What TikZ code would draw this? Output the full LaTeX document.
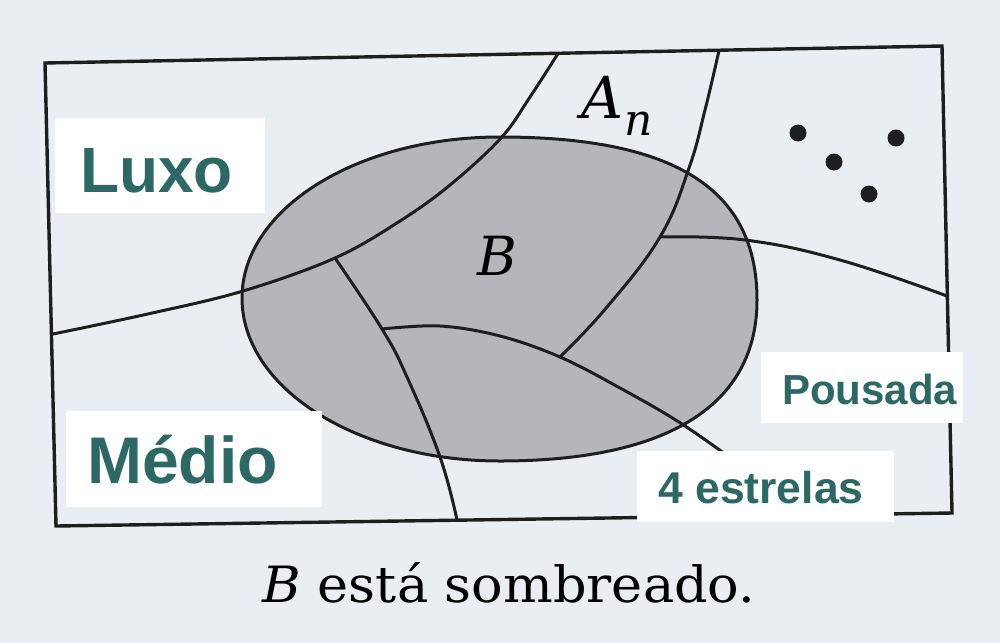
\documentclass[tikz,border=0pt]{standalone}
\usepackage{fontspec}
\newfontfamily\labfont{Liberation Sans}
\newfontfamily\serifb{DejaVu Serif}
\definecolor{bgc}{RGB}{234,238,243}
\definecolor{ink}{RGB}{30,30,30}
\definecolor{shade}{RGB}{180,182,186}
\definecolor{teal}{RGB}{44,104,100}
\tikzset{
  frame/.style={draw=ink, line width=3.4pt, line join=miter},
  curve/.style={draw=ink, line width=3pt, line cap=round},
  whitebox/.style={fill=white, draw=none},
  tag/.style={text=teal, anchor=base west, inner sep=0pt},
  dotmark/.style={fill=ink}
}
\begin{document}
\begin{tikzpicture}[x=1pt,y=-1pt]
\useasboundingbox (0,0) rectangle (1000,643);
\fill[bgc] (0,0) rectangle (1000,643);

% frame corners
\coordinate (TL) at (45,63);
\coordinate (TR) at (942,46);
\coordinate (BR) at (952,513);
\coordinate (BL) at (56,526);

% set B (shaded)
\path[fill=shade] (242,298) .. controls (242,209) and (357,137) .. (500,137)
  .. controls (675,137) and (757,189) .. (757,300)
  .. controls (757,405) and (668,461) .. (500,461)
  .. controls (357,461) and (242,388) .. (242,298) -- cycle;

% junctions
\coordinate (j1) at (335,258);
\coordinate (j2) at (660,237);
\coordinate (j3) at (560,357);
\coordinate (j4) at (382,329);

% Luxo boundary
\draw[curve] plot[smooth, tension=0.6] coordinates {(53,334) (150,313.5) (243,291) (j1) (400,221) (450,185) (501,138) (530,97) (558,53.5)};
% A_n right boundary
\draw[curve] plot[smooth, tension=0.7] coordinates {(719,50.5) (705,110) (689,168) (j2) (607,307) (j3)};
% right horizontal boundary
\draw[curve] plot[smooth, tension=0.7] coordinates {(j2) (745,240) (840,260) (947,296)};
% inner boundary
\draw[curve] plot[smooth, tension=0.7] coordinates {(j1) (j4) (407,377) (440,457) (457,520)};
% lower boundary
\draw[curve] plot[smooth, tension=0.6] coordinates {(j4) (440,326) (500,336) (j3) (620,388) (682,424) (750,472)};

% outline of B
\draw[draw=ink, line width=3pt] (242,298) .. controls (242,209) and (357,137) .. (500,137)
  .. controls (675,137) and (757,189) .. (757,300)
  .. controls (757,405) and (668,461) .. (500,461)
  .. controls (357,461) and (242,388) .. (242,298) -- cycle;

% frame
\draw[frame] (TL) -- (TR) -- (BR) -- (BL) -- cycle;

% dots
\fill[dotmark] (798,133) circle (8.5);
\fill[dotmark] (896,138) circle (8.5);
\fill[dotmark] (834,162) circle (8.5);
\fill[dotmark] (869,194) circle (8.5);

% italic labels
\node (B) at (497,256) {\serifb\itshape\fontsize{54}{54}\selectfont B};
\node[anchor=base west, inner sep=0pt] (An) at (581,118) {\serifb\itshape\fontsize{58}{58}\selectfont A\kern1pt\raisebox{-17pt}{\fontsize{44}{44}\selectfont n}};

% white label boxes
\fill[whitebox] (55,118) rectangle (265,213);
\fill[whitebox] (66,411) rectangle (322,507);
\fill[whitebox] (761,352) rectangle (963,423);
\fill[whitebox] (637,451) rectangle (894,522);

\node[tag] (luxo) at (80,192) {\labfont\bfseries\fontsize{64}{64}\selectfont Luxo};
\node[tag] (medio) at (87,483) {\labfont\bfseries\fontsize{66}{66}\selectfont Médio};
\node[tag] (pousada) at (782,404) {\labfont\bfseries\fontsize{42}{42}\selectfont Pousada};
\node[tag] (estrelas) at (658,503) {\labfont\bfseries\fontsize{44.5}{44.5}\selectfont 4 estrelas};

% caption
\node[anchor=base] (caption) at (509,602) {\scalebox{1.05}[1]{\serifb\fontsize{50}{50}\selectfont\textit{B} está sombreado.}};
\end{tikzpicture}
\end{document}
